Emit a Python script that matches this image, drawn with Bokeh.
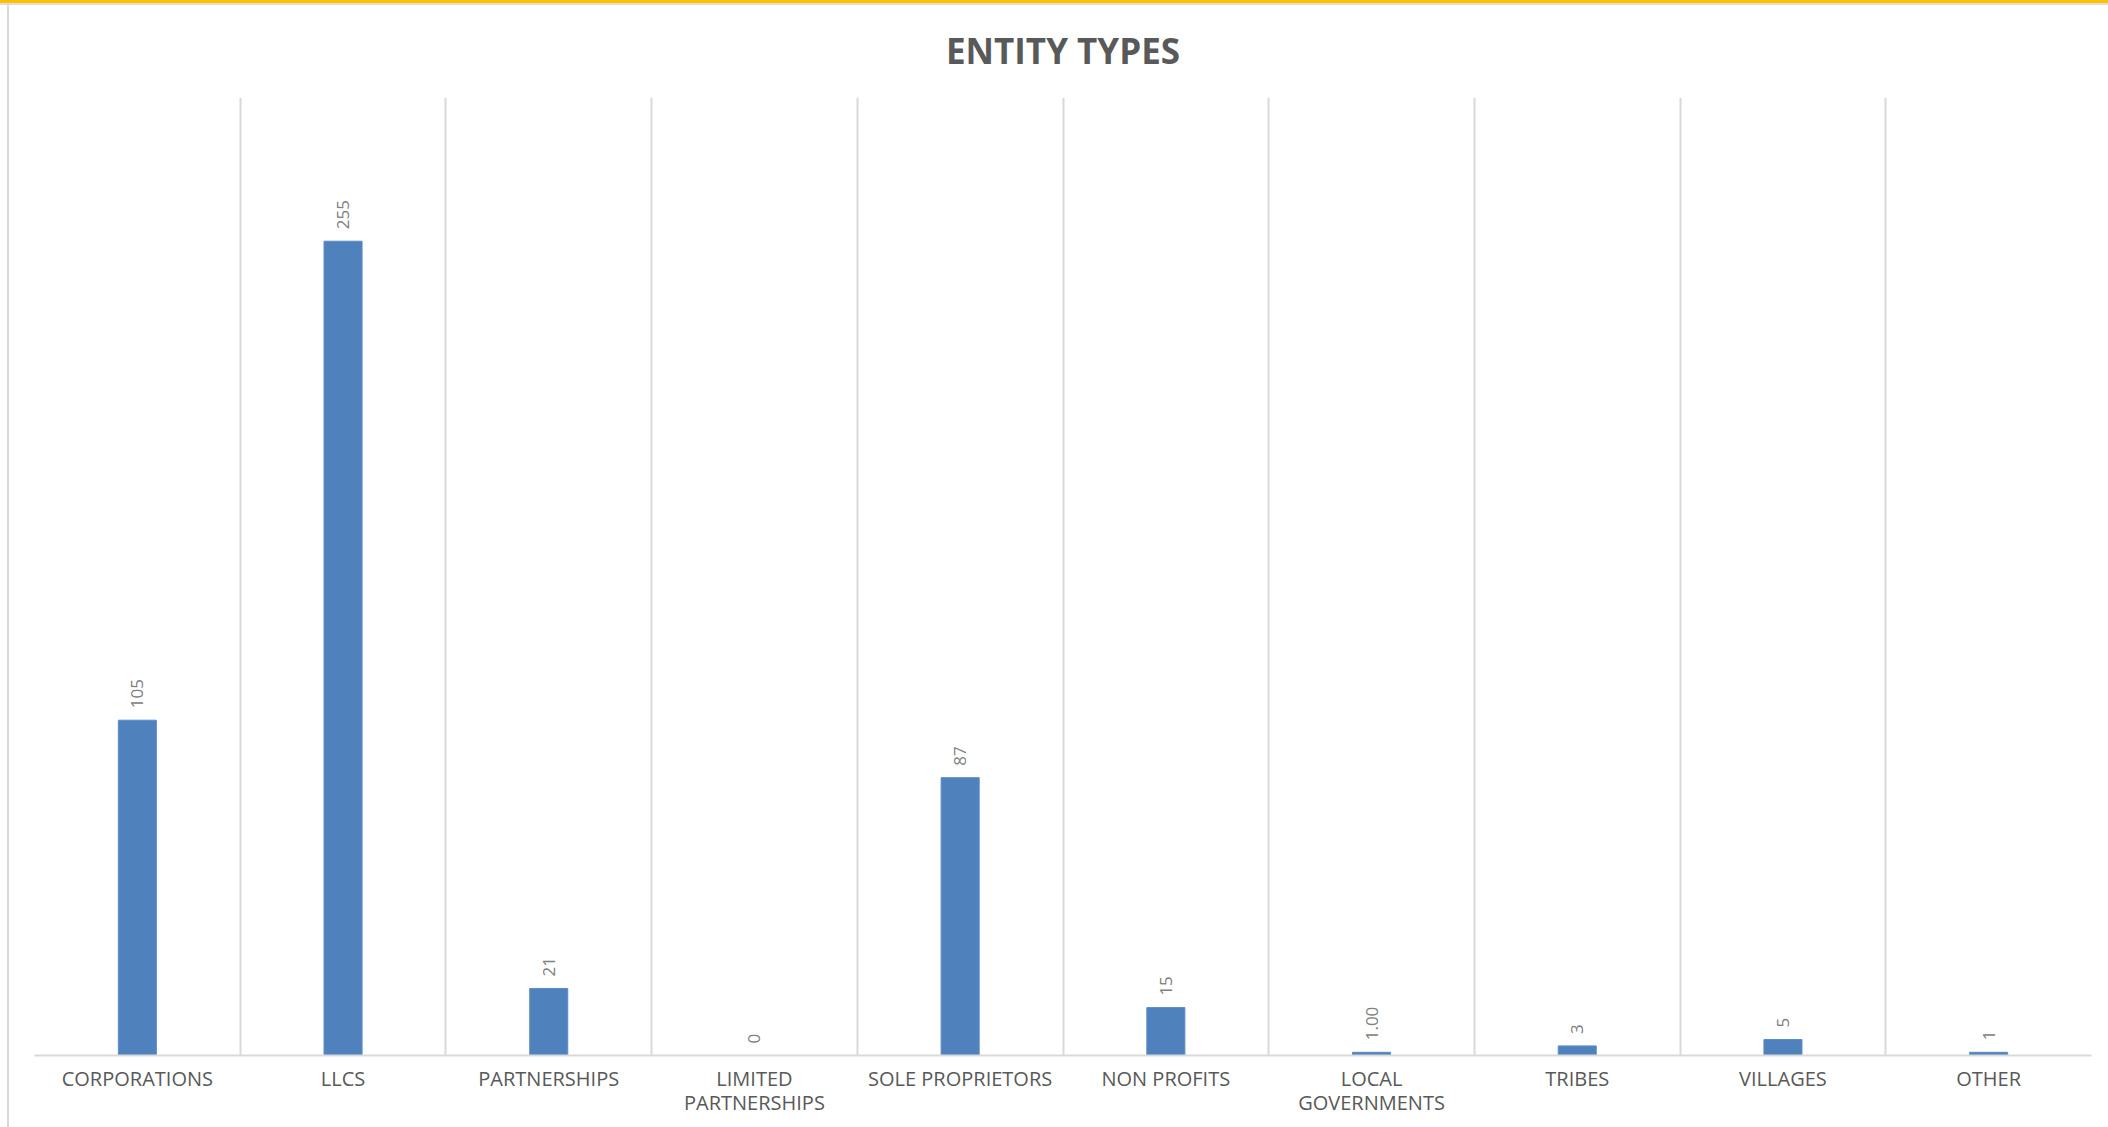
import math
from bokeh.plotting import figure
from bokeh.models import ColumnDataSource, FixedTicker
from bokeh.core.properties import value
from bokeh.embed import file_html
from bokeh.resources import INLINE

# ---- data ----
title_text = "ENTITY TYPES"
categories = ["CORPORATIONS", "LLCS", "PARTNERSHIPS", "LIMITED\nPARTNERSHIPS",
              "SOLE PROPRIETORS", "NON PROFITS", "LOCAL\nGOVERNMENTS",
              "TRIBES", "VILLAGES", "OTHER"]
counts = [105, 255, 21, 0, 87, 15, 1, 3, 5, 1]
count_labels = ["105", "255", "21", "0", "87", "15", "1.00", "3", "5", "1"]
y_max = 300

src = ColumnDataSource(dict(cat=categories, cnt=counts, lbl=count_labels))

p = figure(x_range=categories, y_range=(0, y_max), width=2108, height=1127,
           output_backend="svg", toolbar_location=None,
           min_border_left=34, min_border_right=17,
           min_border_top=97, min_border_bottom=72)

p.vbar(x="cat", top="cnt", width=0.185, source=src,
       fill_color="#4F81BD", line_color="#5B8CC6", line_width=1)

p.text(x="cat", y="cnt", text="lbl", source=src, angle=math.pi / 2,
       text_align="left", text_baseline="middle", y_offset=-12,
       text_font=value("Open Sans"), text_font_size="17px",
       text_color="#808080")

# grid lines between categories
p.xgrid.ticker = FixedTicker(ticks=list(range(len(categories) + 1)))
p.xgrid.grid_line_color = "#d9d9d9"
p.xgrid.grid_line_width = 2
p.ygrid.visible = False

p.yaxis.visible = False
p.xaxis.axis_line_color = "#d9d9d9"
p.xaxis.axis_line_width = 2
p.xaxis.major_tick_line_color = None
p.xaxis.minor_tick_line_color = None
p.xaxis.major_label_text_font = "Open Sans"
p.xaxis.major_label_text_font_size = "20px"
p.xaxis.major_label_text_color = "#595959"
p.xaxis.major_label_text_line_height = 0.9
p.xaxis.major_label_standoff = 3
p.outline_line_color = None

p.title.text = title_text
p.title.align = "center"
p.title.text_font = "Open Sans"
p.title.text_font_size = "35px"
p.title.text_font_style = "bold"
p.title.text_color = "#595959"
p.title.vertical_align = "top"
p.title.standoff = 44

p.background_fill_color = None
p.border_fill_color = None
p.styles = {
    "background": ("linear-gradient(to bottom, #FFC000 0px, #FFC000 3px, #dedede 3px, "
                   "#dedede 5px, transparent 5px), "
                   "linear-gradient(to right, transparent 7px, #d9d9d9 7px, "
                   "#d9d9d9 9px, transparent 9px), #ffffff"),
}

open("out.html", "w").write(file_html(p, INLINE))
